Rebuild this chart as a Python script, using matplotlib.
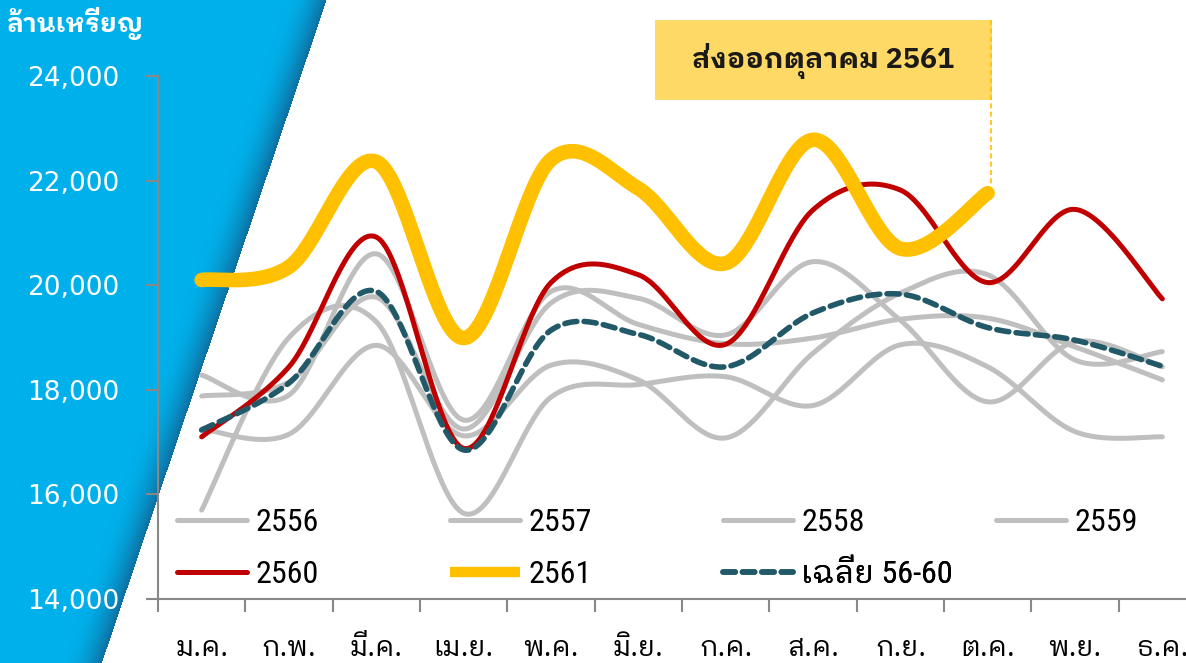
import matplotlib
matplotlib.use("Agg")
import numpy as np
import matplotlib.pyplot as plt
from matplotlib.patches import Rectangle
from matplotlib.lines import Line2D

months = ['ม.ค.', 'ก.พ.', 'มี.ค.', 'เม.ย.', 'พ.ค.', 'มิ.ย.', 'ก.ค.', 'ส.ค.', 'ก.ย.', 'ต.ค.', 'พ.ย.', 'ธ.ค.']

y2556 = [15700, 19000, 19300, 15640, 17860, 18100, 18250, 17700, 18860, 18440, 17200, 17100]
y2557 = [18280, 17900, 20600, 17420, 19880, 19250, 18880, 18990, 19350, 19370, 18820, 18190]
y2558 = [17250, 17150, 18850, 17120, 18470, 18190, 17080, 18700, 19850, 20200, 18570, 18730]
y2559 = [17880, 18150, 19770, 17250, 19660, 19750, 19050, 20450, 19330, 17770, 18920, 18440]
y2560 = [17100, 18440, 20920, 16880, 20050, 20200, 18870, 21440, 21820, 20050, 21450, 19740]
y2561 = [20100, 20350, 22360, 18990, 22400, 21850, 20420, 22780, 20700, 21760]
avg5660 = [17230, 18130, 19880, 16850, 19140, 19060, 18440, 19470, 19830, 19190, 18950, 18450]

TH = 'IBM Plex Sans Thai Looped'
NARROW = ['Roboto Condensed', 'Liberation Sans Narrow', TH]


def smooth(vals, n=40):
    # excel-like smoothed line (catmull-rom bezier)
    y = np.asarray(vals, dtype=float)
    x = np.arange(len(y), dtype=float)
    P = np.column_stack([x, y])
    P = np.vstack([P[:1], P, P[-1:]])
    t = np.linspace(0, 1, n)[:, None]
    out = []
    for i in range(1, len(P) - 2):
        p0, p3 = P[i], P[i + 1]
        p1 = p0 + (P[i + 1] - P[i - 1]) / 6
        p2 = p3 - (P[i + 2] - P[i]) / 6
        b = (1 - t) ** 3 * p0 + 3 * (1 - t) ** 2 * t * p1 + 3 * (1 - t) * t ** 2 * p2 + t ** 3 * p3
        out.append(b)
    b = np.vstack(out)
    return b[:, 0], b[:, 1]


W, H = 1186, 663
fig = plt.figure(figsize=(W / 100, H / 100), dpi=100)

# background with blue diagonal band
bg = fig.add_axes([0, 0, 1, 1])
bg.set_xlim(0, W)
bg.set_ylim(H, 0)
bg.axis('off')
yy, xx = np.mgrid[0:H, 0:W]
d = xx - (326 - 0.339 * yy)
blue = np.array([0, 176, 234]) / 255
dark = np.array([14, 110, 160]) / 255
img = np.ones((H, W, 3))
tt = np.clip(1 + d / 40, 0, 1) ** 2
inside = d < 0
img[inside] = blue * (1 - tt[inside][:, None]) + dark * tt[inside][:, None]
bg.imshow(img, extent=[0, W, H, 0], aspect='auto', zorder=0)

bg.add_patch(Rectangle((655, 20), 337, 80, facecolor='#FFD966', edgecolor='none', zorder=2))
bg.text(823, 61, 'ส่งออกตุลาคม 2561', family=[TH, 'DejaVu Sans'], fontsize=20.5, fontweight='bold',
        color='#1a1a1a', ha='center', va='center', zorder=3)
bg.plot([991, 991], [20, 185], color='#FFC000', lw=1.2, ls=(0, (3, 2)), zorder=2)
bg.text(6, 24, 'ล้านเหรียญ', family=[TH, 'DejaVu Sans'], fontsize=19, fontweight='bold',
        color='white', ha='left', va='center')

ax = fig.add_axes([158 / W, 1 - 599 / H, 1048 / W, 523 / H])
ax.patch.set_alpha(0)
x = np.arange(12)

grey = []
for s in [y2556, y2557, y2558, y2559]:
    xs, ys = smooth(s)
    grey += ax.plot(xs, ys, color='#BFBFBF', lw=3.6, solid_capstyle='round')
xs, ys = smooth(y2560)
l60, = ax.plot(xs, ys, color='#C00000', lw=3.6, solid_capstyle='round')
xs, ys = smooth(y2561)
l61, = ax.plot(xs, ys, color='#FFC000', lw=10.5, solid_capstyle='round')
xs, ys = smooth(avg5660)
lav, = ax.plot(xs, ys, color='#215968', lw=4.0, ls=(0, (2.2, 1.3)), dash_capstyle='round')

# legend: excel style fixed columns, one small legend per entry
h61 = Line2D([], [], color='#FFC000', lw=7.5, solid_capstyle='butt')
entries = [(grey[0], '2556'), (grey[1], '2557'), (grey[2], '2558'), (grey[3], '2559'),
           (l60, '2560'), (h61, '2561'), (lav, 'เฉลี่ย 56-60')]
for i, (h, lab) in enumerate(entries):
    col, row = i % 4, i // 4
    lg = ax.legend([h], [lab], loc='center left', bbox_to_anchor=(0.018 + col * 0.2605, 0.146 - row * 0.1),
                   frameon=False, borderpad=0, borderaxespad=0, handlelength=2.2, handletextpad=0.25,
                   prop={'family': NARROW, 'size': 23})
    ax.add_artist(lg)

ax.set_xlim(-0.5, 11.5)
ax.set_ylim(14000, 24000)
ax.set_yticks(np.arange(14000, 24001, 2000))
ax.set_yticklabels(['{:,}'.format(v) for v in range(14000, 24001, 2000)], family='DejaVu Sans')
ax.tick_params(axis='y', colors='#888888', labelcolor='white', labelsize=19, length=9, width=1.5, pad=19)
ax.set_xticks(np.arange(-0.5, 12, 1))
ax.set_xticklabels([])
ax.set_xticks(x, minor=True)
ax.set_xticklabels(months, minor=True, family=[TH, 'DejaVu Sans'], fontsize=20)
ax.tick_params(axis='x', which='major', colors='#888888', length=9, width=1.5)
ax.tick_params(axis='x', which='minor', length=0, pad=26)
for sp in ['top', 'right']:
    ax.spines[sp].set_visible(False)
for sp in ['left', 'bottom']:
    ax.spines[sp].set_color('#888888')
    ax.spines[sp].set_linewidth(1.5)

fig.savefig('out.png', dpi=100)
